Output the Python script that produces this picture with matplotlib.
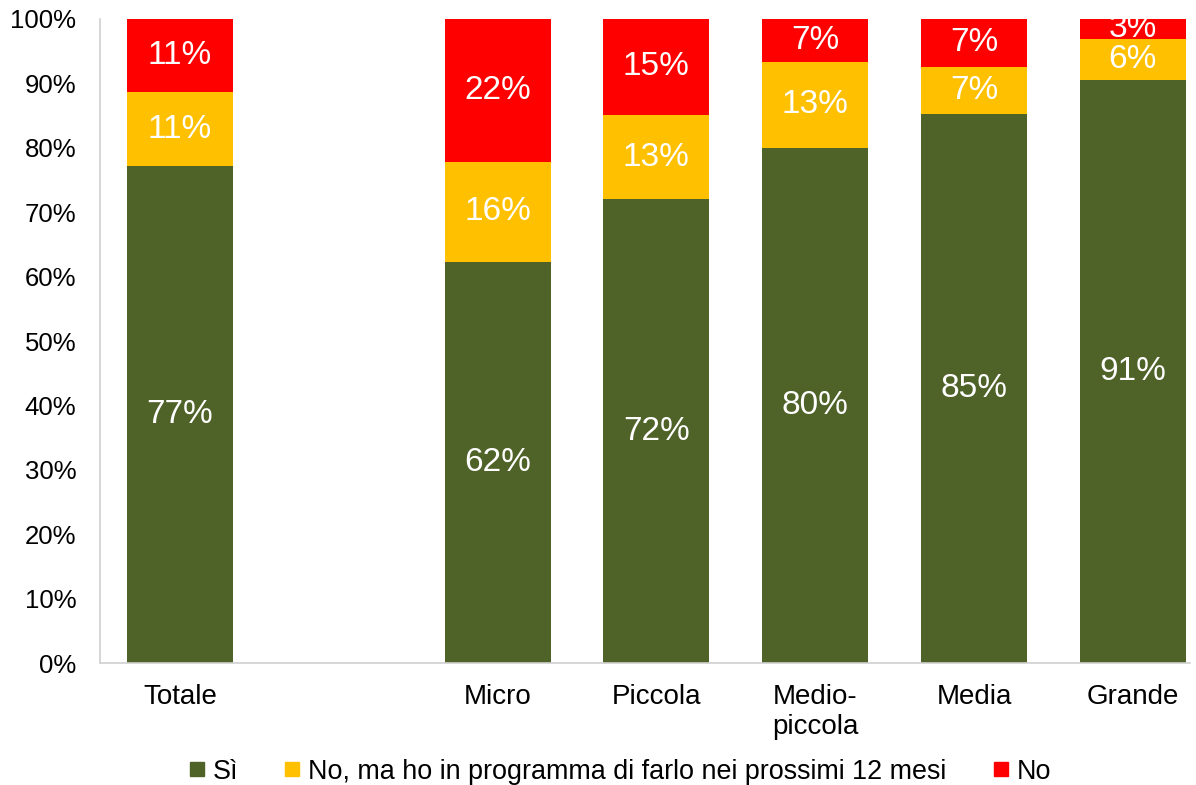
import matplotlib
matplotlib.use("Agg")
import matplotlib.pyplot as plt
from matplotlib.lines import Line2D

plt.rcParams["font.family"] = ["Liberation Sans", "DejaVu Sans"]

categories = ["Totale", "", "Micro", "Piccola", "Medio-\npiccola", "Media", "Grande"]
si = [77.2, None, 62.3, 72.0, 80.0, 85.2, 90.6]
no_prog = [11.4, None, 15.5, 13.1, 13.3, 7.4, 6.3]
no = [11.4, None, 22.2, 14.9, 6.7, 7.4, 3.1]

series_names = ["Sì", "No, ma ho in programma di farlo nei prossimi 12 mesi", "No"]
colors = ["#4f6228", "#ffc000", "#ff0000"]

fig = plt.figure(figsize=(11.96, 7.85), dpi=100)
ax = fig.add_axes([0.0836, 0.1554, 0.9114, 0.8204])

width = 0.668
for i, cat in enumerate(categories):
    if si[i] is None:
        continue
    bottom = 0
    for vals, col in zip([si, no_prog, no], colors):
        v = vals[i]
        ax.bar(i, v, width=width, bottom=bottom, color=col)
        ax.text(i, bottom + v / 2, f"{round(v)}%", ha="center", va="center",
                color="white", fontsize=24)
        bottom += v

ax.set_xlim(-0.504, 6.36)
ax.set_ylim(0, 100)
ax.set_yticks(range(0, 101, 10))
ax.set_yticklabels([f"{t}%" for t in range(0, 101, 10)], fontsize=18.5)
ax.set_xticks(range(len(categories)))
ax.set_xticklabels(categories, linespacing=1.2, fontsize=20)
ax.tick_params(axis="both", length=0, colors="black")
ax.tick_params(axis="y", pad=17)
ax.tick_params(axis="x", pad=15)
for side in ["top", "right"]:
    ax.spines[side].set_visible(False)
for side in ["left", "bottom"]:
    ax.spines[side].set_color("#d0d0d0")
    ax.spines[side].set_linewidth(1.2)

handles = [Line2D([], [], marker="s", linestyle="none", markersize=9.5,
                  markerfacecolor=c, markeredgecolor=c) for c in colors]
fig.legend(handles, series_names, loc="center", bbox_to_anchor=(0.515, 0.017),
           ncol=3, frameon=False, handletextpad=0.0, columnspacing=1.4,
           handlelength=1.2, prop={"size": 19.4})

fig.savefig("out.png", dpi=100)
